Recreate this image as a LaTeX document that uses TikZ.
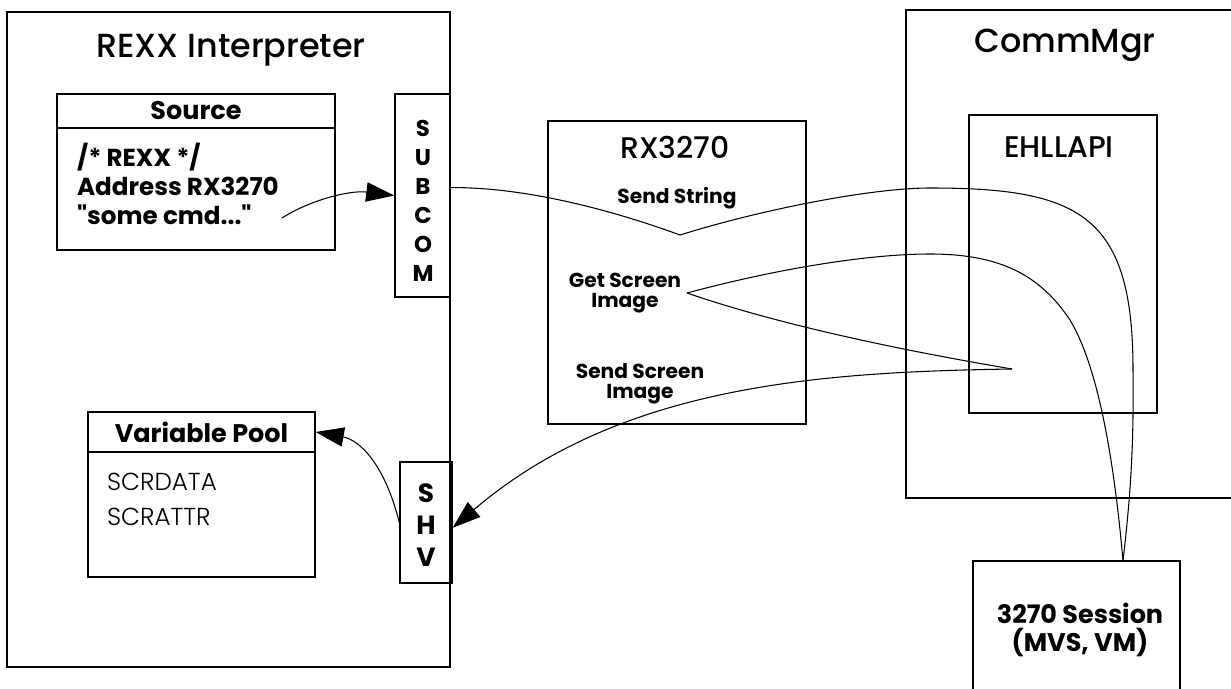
\documentclass[tikz,border=0pt]{standalone}
\usepackage{fontspec}
\setmainfont{Poppins}
\newfontfamily\kozep{Poppins Medium}
\newfontfamily\vekony{Poppins Light}
\newfontfamily\egyenes{Poppins}
\usetikzlibrary{arrows.meta,positioning,fit}
\tikzset{
  doboz/.style={draw,line width=0.8pt,inner sep=0pt,fit={#1}},
  cim/.style={inner sep=1pt,font=\kozep\fontsize{19}{22}\selectfont},
  cimk/.style={inner sep=1pt,font=\kozep\fontsize{17}{20}\selectfont},
  fej/.style={inner sep=1pt,font=\bfseries\fontsize{14.5}{17}\selectfont,align=center},
  sor/.style={inner sep=1pt,anchor=west,font=\bfseries\fontsize{14}{16}\selectfont},
  adat/.style={inner sep=1pt,anchor=west,font=\vekony\fontsize{14}{16}\selectfont},
  kis/.style={inner sep=1pt,font=\bfseries\fontsize{11.5}{11.5}\selectfont,align=center},
  betu/.style={inner sep=1pt,font=\bfseries\fontsize{13}{16.5}\selectfont,align=center},
  vonal/.style={line width=0.6pt},
  nyil/.style={vonal,-{Triangle[length=16pt,width=11pt]}},
}
\begin{document}
\begin{tikzpicture}[x=0.02cm,y=-0.02cm]
  \useasboundingbox (0,0) rectangle (1231,689);
  % REXX
  \node[doboz={(7,12) (450,667)}] (rexx) {};
  \node[cim] (rexxcim) at (231,50) {REXX Interpreter};
  \node[doboz={(57,94) (335,250)}] (forras) {};
  \node[doboz={(57,94) (335,128)}] (forrasfej) {};
  \node[fej] at (forrasfej) {Source};
  \node[sor] (sor1) at (75,157) {/* REXX */};
  \node[sor] (sor2) at (75,186) {Address RX3270};
  \node[sor,font=\egyenes\bfseries\fontsize{14}{16}\selectfont] (sor3) at (75,215) {"some cmd..."};
  \coordinate (kezd) at (282,218);
  \node[doboz={(395,94) (450,297)}] (subcom) {};
  \node[betu] at (423,201) {S\\U\\B\\C\\O\\M};
  \node[doboz={(88,412) (315,577)}] (pool) {};
  \node[doboz={(88,412) (315,452)}] (poolfej) {};
  \node[fej] at (poolfej) {Variable Pool};
  \node[adat] (scrdata) at (105,482) {SCRDATA};
  \node[adat] (scrattr) at (105,517) {SCRATTR};
  \node[doboz={(400,462) (452,583)}] (shv) {};
  \node[betu,font=\bfseries\fontsize{15}{18}\selectfont] at (426,525) {S\\H\\V};
  % RX3270
  \node[doboz={(548,121) (806,424)}] (rx) {};
  \node[cimk] at (675,147) {RX3270};
  \node[kis] (sendstr) at (677,198) {Send String};
  \node[kis] (getscr) at (625,293) {Get Screen\\Image};
  \node[kis] (sendscr) at (640,384) {Send Screen\\Image};
  % CommMgr
  \node[doboz={(906,10) (1260,498)}] (comm) {};
  \node[cim] at (1065,45) {CommMgr};
  \node[doboz={(969,115) (1157,413)}] (ehl) {};
  \node[cimk] at (1059,147) {EHLLAPI};
  \node[doboz={(973,561) (1180,720)}] (sess) {};
  \node[fej,font=\bfseries\fontsize{14.5}{15.5}\selectfont] at (1080,630) {3270 Session\\(MVS, VM)};
  % utak
  \coordinate (vpont) at (680,235);
  \coordinate (gpont) at (687,293);
  \coordinate (csucs) at (1012,369);
  \coordinate (sessfel) at (1123,561);
  \draw[nyil] (kezd) .. controls (310,200) and (350,190) .. (subcom.west);
  \draw[vonal] ([yshift=4.5pt]subcom.east) .. controls (530,187) and (620,213) .. (vpont)
    .. controls (760,210) and (870,188) .. (930,188)
    .. controls (1080,188) and (1133,215) .. (1133,370)
    .. controls (1134,450) and (1130,500) .. (sessfel);
  \draw[vonal] (gpont) .. controls (780,268) and (870,254) .. (930,254)
    .. controls (1000,254) and (1040,275) .. (1070,320)
    .. controls (1100,370) and (1115,470) .. (sessfel);
  \draw[vonal] (gpont) .. controls (780,325) and (900,350) .. (csucs);
  \draw[nyil] (csucs) .. controls (820,372) and (620,385) .. ([yshift=-3pt]shv.east);
  \draw[nyil] (shv.west) .. controls (385,465) and (360,440) .. (poolfej.east);
\end{tikzpicture}
\end{document}
